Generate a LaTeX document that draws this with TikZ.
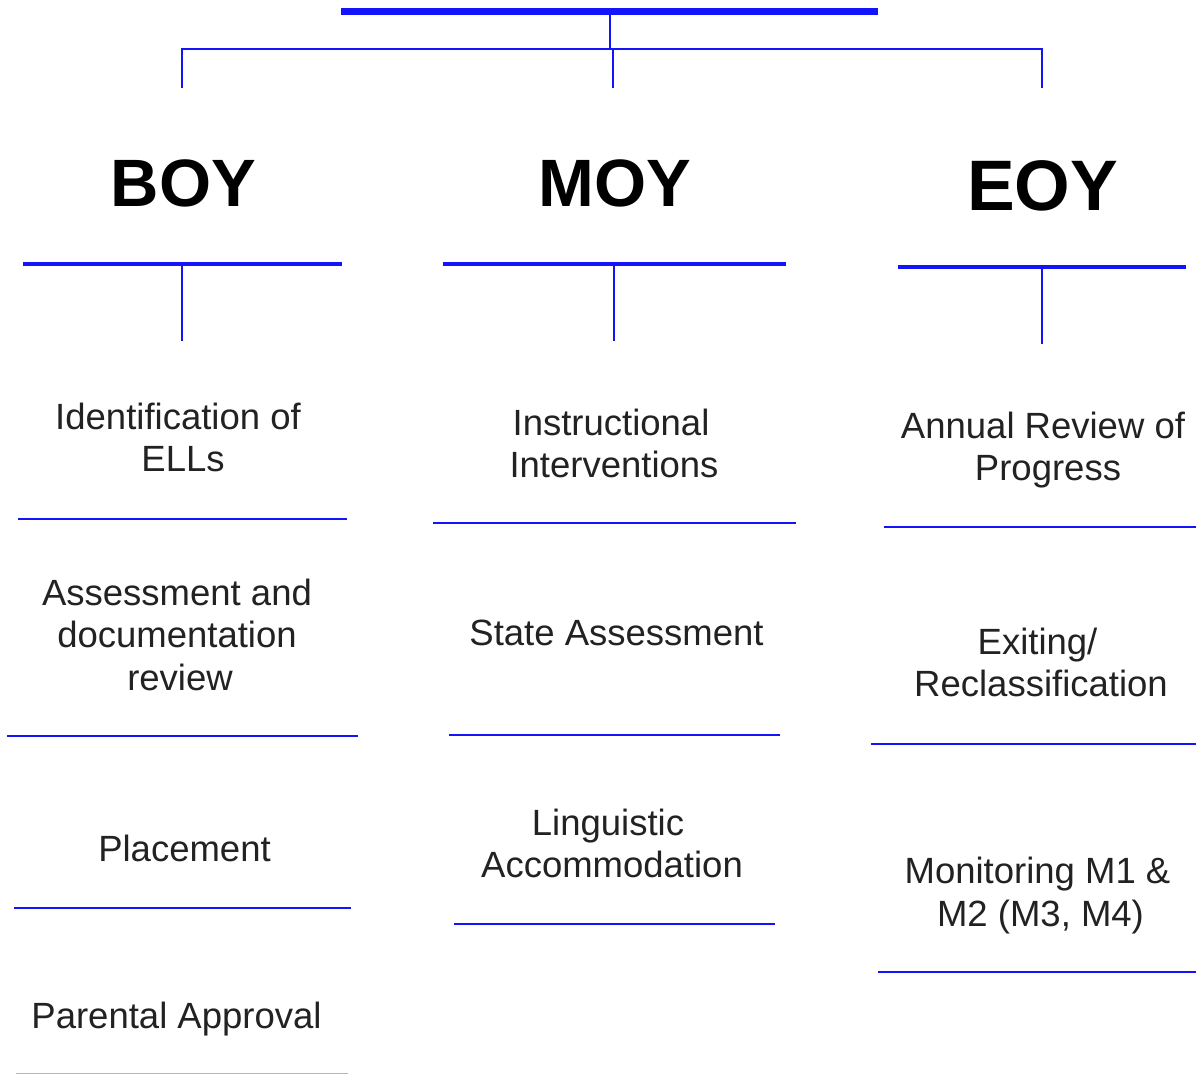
\documentclass[tikz,border=0pt]{standalone}
\usepackage{fontspec}
\setmainfont{Liberation Sans}
\definecolor{rule}{RGB}{20,20,250}
\definecolor{ink}{RGB}{34,34,34}
\begin{document}
\begin{tikzpicture}[x=1pt,y=-1pt,
  thinrule/.style={draw=rule,line width=2pt},
  headrule/.style={draw=rule,line width=4.5pt},
  rootrule/.style={draw=rule,line width=7pt},
  head/.style={font=\fontsize{67}{70}\selectfont\bfseries,anchor=base,inner sep=0pt},
  item/.style={font=\fontsize{36.5}{42.5}\selectfont,text=ink,align=center,anchor=north,inner sep=0pt}]
\useasboundingbox (0,0) rectangle (1196,1074);
\fill[white] (0,0) rectangle (1196,1074);

% root bar and its three branches
\coordinate (rootL) at (341,11);
\coordinate (rootR) at (878,11);
\coordinate (rootstem) at (610,11);
\coordinate (junction) at (610,49);
\coordinate (brB) at (182,88);
\coordinate (brM) at (613,88);
\coordinate (brE) at (1042,88);
\draw[rootrule] (rootL) -- (rootR);
\draw[draw=rule,line width=2.5pt] (rootstem) -- (junction);
\draw[draw=rule,line width=2.5pt,line join=miter] (brB) |- (junction) -| (brE);
\draw[thinrule] (brM) -- (brM |- junction);

% period headings
\node[head] (boy) at (183.5,206) {BOY};
\node[head] (moy) at (615,206) {MOY};
\node[head,font=\fontsize{71.5}{74}\selectfont\bfseries] (eoy) at (1042.5,210) {EOY};

% heading bars with stems
\coordinate (boyL) at (23,264);  \coordinate (boyR) at (342,264);
\coordinate (moyL) at (443,264); \coordinate (moyR) at (786,264);
\coordinate (eoyL) at (898,267); \coordinate (eoyR) at (1186,267);
\coordinate (boyS) at (182,341);
\coordinate (moyS) at (614,341);
\coordinate (eoyS) at (1042,344);
\draw[headrule] (boyL) -- (boyR);
\draw[headrule] (moyL) -- (moyR);
\draw[headrule] (eoyL) -- (eoyR);
\draw[thinrule] (boyS |- boyL) -- (boyS);
\draw[thinrule] (moyS |- moyL) -- (moyS);
\draw[thinrule] (eoyS |- eoyL) -- (eoyS);

% BOY column
\node[item] (b1) at (178,402.5) {Identification of\\\hspace*{10pt}ELLs};
\node[item] (b2) at (177,578.5) {Assessment and\\documentation\\\hspace*{6pt}review};
\node[item] (b3) at (184.5,834.5) {Placement};
\node[item] (b4) at (176.5,1002) {Parental Approval};
\draw[thinrule] (18,519) -- (347,519);
\draw[thinrule] (7,736) -- (358,736);
\draw[thinrule] (14,908) -- (351,908);
\draw[draw=rule!35,line width=1.5pt] (16,1073.5) -- (348,1073.5);

% MOY column
\node[item] (m1) at (614,408.5) {Instructional\hspace*{6pt}\\Interventions};
\node[item] (m2) at (616.5,619.5) {State Assessment};
\node[item] (m3) at (612,808.5) {Linguistic\hspace*{8pt}\\Accommodation};
\draw[thinrule] (433,523) -- (796,523);
\draw[thinrule] (449,735) -- (780,735);
\draw[thinrule] (454,924) -- (775,924);

% EOY column
\node[item] (e1) at (1043,411.5) {Annual Review of\\\hspace*{10pt}Progress};
\node[item] (e2) at (1041,627.5) {Exiting/\hspace*{7pt}\\Reclassification};
\node[item] (e3) at (1040.5,857) {Monitoring M1 \&\hspace*{6pt}\\M2 (M3, M4)};
\draw[thinrule] (884,527) -- (1196,527);
\draw[thinrule] (871,744) -- (1196,744);
\draw[thinrule] (878,972) -- (1196,972);
\end{tikzpicture}
\end{document}
